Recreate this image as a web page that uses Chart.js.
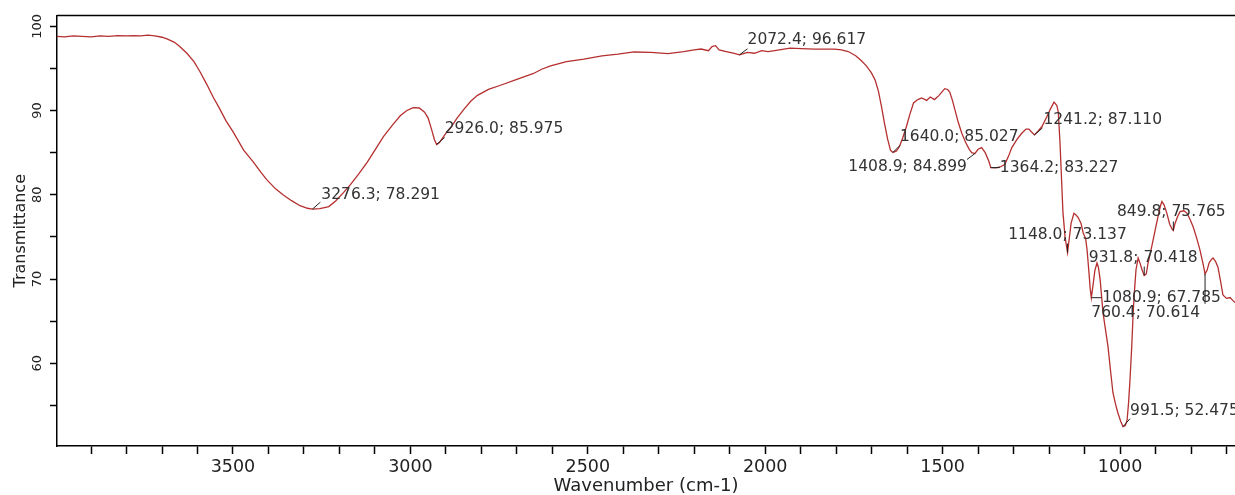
<!DOCTYPE html>
<html>
<head>
<meta charset="utf-8">
<title>FTIR</title>
<script src="https://cdn.jsdelivr.net/npm/chart.js@4.4.1/dist/chart.umd.min.js"></script>
<style>
  html, body { margin: 0; padding: 0; background: #fff; }
  #wrap { width: 1235px; height: 495px; }
</style>
</head>
<body>
<div id="wrap"><canvas id="chartFtir" width="1235" height="495"></canvas></div>
<script>
// ============================================================
// Espectro FTIR — transmitância x número de onda
// ============================================================

const wavenumbers = [
  3996, 3975, 3950, 3925, 3900, 3875, 3850, 3825, 3800, 3780, 3760, 3740, 3720, 3700,
  3686, 3665, 3650, 3630, 3610, 3593, 3575, 3556, 3540, 3520, 3500, 3470, 3443, 3420,
  3405, 3380, 3359, 3335, 3311, 3290, 3276.3, 3255, 3230, 3210, 3190, 3169, 3145, 3121,
  3100, 3076, 3050, 3028, 3010, 2992, 2975, 2960, 2950, 2940, 2932, 2926, 2918, 2910,
  2898, 2887, 2870, 2850, 2830, 2811, 2780, 2746, 2700, 2653, 2630, 2605, 2560, 2511,
  2460, 2415, 2370, 2322, 2274, 2230, 2200, 2181, 2160, 2150, 2140, 2130, 2110, 2090,
  2072.4, 2050, 2030, 2010, 1992, 1960, 1930, 1898, 1860, 1830, 1805, 1785, 1766, 1745,
  1729, 1715, 1701, 1690, 1681, 1672, 1664, 1655, 1647, 1640, 1630, 1622, 1612, 1602,
  1592, 1582, 1570, 1559, 1545, 1535, 1523, 1510, 1500, 1494, 1486, 1480, 1473, 1466,
  1456, 1446, 1435, 1425, 1418, 1408.9, 1400, 1390, 1380, 1370, 1364.2, 1350, 1338, 1325,
  1315, 1305, 1290, 1277, 1265, 1257, 1248, 1241.2, 1230, 1220, 1206, 1196, 1186, 1178,
  1174, 1169, 1165, 1161, 1155, 1148, 1144, 1138, 1130, 1124, 1118, 1110, 1104, 1097,
  1093, 1088, 1084, 1080.9, 1076, 1071, 1065, 1061, 1056, 1048, 1041, 1034, 1027, 1020,
  1013, 1006, 998, 991.5, 985, 980, 976, 972, 967, 963, 959, 955, 949, 943,
  938, 931.8, 926, 921, 914, 907, 900, 893, 886, 882, 876, 868, 860, 853,
  849.8, 845, 838, 831, 820, 811, 802, 794, 785, 775, 766, 760.4, 755, 749,
  743, 738, 731, 724, 717, 710, 700, 690, 683, 676,
];

const transmittance = [
  98.8, 98.75, 98.85, 98.8, 98.75, 98.85, 98.8, 98.9, 98.85, 98.9, 98.85, 98.95, 98.85, 98.7,
  98.5, 98.1, 97.6, 96.8, 95.8, 94.6, 93.2, 91.6, 90.4, 88.8, 87.5, 85.3, 83.9, 82.6,
  81.8, 80.7, 80.0, 79.3, 78.7, 78.4, 78.291, 78.35, 78.6, 79.3, 80.2, 81.2, 82.5, 83.9,
  85.3, 86.9, 88.3, 89.4, 90.0, 90.35, 90.3, 89.8, 89.1, 87.7, 86.5, 85.975, 86.2, 86.7,
  87.4, 87.9, 89.0, 90.1, 91.1, 91.8, 92.5, 93.0, 93.7, 94.4, 94.9, 95.3, 95.8, 96.1,
  96.5, 96.7, 96.95, 96.9, 96.75, 97.0, 97.2, 97.3, 97.1, 97.6, 97.7, 97.2, 97.0, 96.8,
  96.617, 96.9, 96.8, 97.1, 97.0, 97.2, 97.4, 97.35, 97.3, 97.3, 97.3, 97.2, 97.0, 96.5,
  95.9, 95.3, 94.5, 93.6, 92.3, 90.4, 88.5, 86.6, 85.3, 85.027, 85.2, 85.7, 86.8, 88.1,
  89.6, 90.9, 91.3, 91.5, 91.2, 91.6, 91.3, 91.8, 92.3, 92.6, 92.5, 92.2, 91.3, 90.2,
  88.6, 87.3, 86.2, 85.4, 85.0, 84.899, 85.4, 85.6, 85.0, 84.0, 83.227, 83.2, 83.3, 83.6,
  84.5, 85.6, 86.6, 87.3, 87.8, 87.8, 87.4, 87.11, 87.6, 88.1, 89.3, 90.2, 91.0, 90.6,
  89.8, 86.0, 82.0, 78.0, 75.0, 73.137, 74.5, 76.6, 77.8, 77.6, 77.3, 76.6, 75.5, 74.8,
  73.5, 71.0, 68.8, 67.785, 69.3, 71.0, 71.9, 71.4, 69.9, 66.0, 64.0, 62.0, 59.2, 56.5,
  55.2, 54.1, 53.1, 52.475, 52.6, 53.3, 55.3, 58.0, 62.0, 66.0, 68.8, 71.1, 72.5, 71.8,
  71.1, 70.418, 70.6, 71.9, 73.2, 74.6, 76.0, 77.4, 78.7, 79.2, 78.8, 77.8, 76.5, 75.9,
  75.765, 76.6, 77.4, 78.0, 78.1, 77.8, 77.0, 76.2, 75.0, 73.5, 71.8, 70.614, 71.0, 71.9,
  72.3, 72.5, 72.1, 71.4, 69.8, 68.1, 67.7, 67.8, 67.5, 67.2,
];

// picos marcados
const peakWavenumbers = [3276.3, 2926.0, 2072.4, 1640.0, 1408.9, 1364.2, 1241.2, 1148.0, 1080.9, 991.5, 931.8, 849.8, 760.4];
const peakTransmittance = [78.291, 85.975, 96.617, 85.027, 84.899, 83.227, 87.110, 73.137, 67.785, 52.475, 70.418, 75.765, 70.614];

const xTickLabels = [3500, 3000, 2500, 2000, 1500, 1000];
const yTickLabels = [60, 70, 80, 90, 100];

// deslocamento do rótulo em px: [dx, dy, alinhamento, linha dx, linha dy]
const PEAK_LABEL_LAYOUT = [
  [9, -14, 'left', 8, -7],
  [8, -15, 'left', 8, -7],
  [8, -15, 'left', 8, -6],
  [7, -15, 'left', 7, -7],
  [-8, 13, 'right', -8, 6],
  [9, 0, 'left', 9, 0],
  [9, -15, 'left', 8, -7],
  [0, -18, 'center', 0, -9],
  [11, 0, 'left', 10, 0],
  [7, -16, 'left', 7, -8],
  [-1, -18, 'center', 0, -9],
  [-2, -18, 'center', 0, -9],
  [-5, 39, 'right', 0, 30],
];

const FONT = "'DejaVu Sans', sans-serif";
const TEXT = '#222';
const LINE_RED = '#b52f2f';

Chart.defaults.font.family = FONT;
Chart.defaults.color = TEXT;

const peakLabels = {
  id: 'peakLabels',
  afterDatasetsDraw(chart) {
    const { ctx, scales: { x, y } } = chart;
    ctx.save();
    ctx.font = `15.5px ${FONT}`;
    ctx.fillStyle = '#333';
    ctx.strokeStyle = '#222';
    ctx.lineWidth = 1;
    ctx.textBaseline = 'middle';
    peakWavenumbers.forEach((w, i) => {
      const t = peakTransmittance[i];
      const px = x.getPixelForValue(w);
      const py = y.getPixelForValue(t);
      const [dx, dy, align, lx, ly] = PEAK_LABEL_LAYOUT[i];
      ctx.beginPath();
      ctx.moveTo(px, py);
      ctx.lineTo(px + lx, py + ly);
      ctx.stroke();
      ctx.textAlign = align;
      ctx.fillText(`${w.toFixed(1)}; ${t.toFixed(3)}`, px + dx, py + dy);
    });
    ctx.restore();
  },
};

const frameTop = {
  id: 'frameTop',
  afterDraw(chart) {
    const { ctx, chartArea: a } = chart;
    ctx.save();
    ctx.strokeStyle = '#000';
    ctx.lineWidth = 1.5;
    ctx.beginPath();
    ctx.moveTo(a.left, a.top);
    ctx.lineTo(a.right, a.top);
    ctx.stroke();
    ctx.restore();
  },
};

new Chart(document.getElementById('chartFtir'), {
  type: 'line',
  data: {
    datasets: [{
      data: wavenumbers.map((w, i) => ({ x: w, y: transmittance[i] })),
      borderColor: LINE_RED,
      borderWidth: 1.3,
      pointRadius: 0,
      tension: 0,
      fill: false,
    }],
  },
  options: {
    responsive: false,
    animation: false,
    events: [],
    layout: { padding: { top: 15.5, right: 0, bottom: 0, left: 0 } },
    plugins: { legend: { display: false }, tooltip: { enabled: false } },
    scales: {
      x: {
        type: 'linear',
        reverse: true,
        min: 676,
        max: 3996,
        border: { display: true, color: '#000', width: 1.5 },
        grid: { drawOnChartArea: false, drawTicks: true, tickLength: 8, tickColor: '#000', tickWidth: 1.5 },
        ticks: {
          stepSize: 100,
          includeBounds: false,
          autoSkip: false,
          minRotation: 0,
          maxRotation: 0,
          padding: 3,
          color: TEXT,
          font: { size: 17.5 },
          callback: (v) => (xTickLabels.includes(Math.round(v)) ? String(Math.round(v)) : ''),
        },
        title: {
          display: true,
          text: 'Wavenumber (cm-1)',
          color: TEXT,
          font: { size: 18, lineHeight: 1 },
          padding: { top: 0, bottom: 0 },
        },
        afterFit(s) { s.height = 49; },
      },
      y: {
        type: 'linear',
        min: 50.18,
        max: 101.28,
        border: { display: true, color: '#000', width: 1.5 },
        grid: { drawOnChartArea: false, drawTicks: true, tickLength: 7, tickColor: '#000', tickWidth: 1.5 },
        ticks: {
          stepSize: 5,
          includeBounds: false,
          autoSkip: false,
          minRotation: 90,
          maxRotation: 90,
          crossAlign: 'center',
          padding: 0,
          color: TEXT,
          font: { size: 13 },
          callback: (v) => (yTickLabels.includes(Math.round(v)) ? String(Math.round(v)) : ''),
        },
        title: {
          display: true,
          text: 'Transmittance',
          color: TEXT,
          font: { size: 16 },
          padding: { top: 11, bottom: 0 },
        },
        afterFit(s) { s.width = 57; },
      },
    },
  },
  plugins: [peakLabels, frameTop],
});
</script>
</body>
</html>
